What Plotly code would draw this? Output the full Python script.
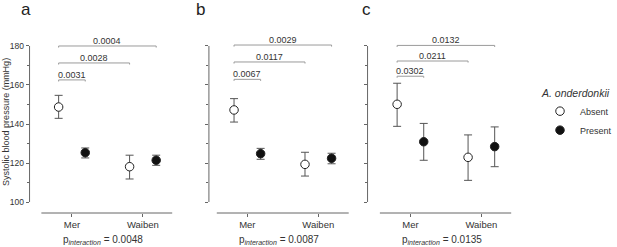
import plotly.graph_objects as go

# ---------------- data ----------------
categories = ["Mer", "Waiben"]
panels = ["a", "b", "c"]

# means (Absent / Present), per panel, per category
absent_mean = {"a": [148.7, 118.1], "b": [147.2, 119.3], "c": [150.1, 122.9]}
absent_upper = {"a": [154.7, 124.0], "b": [153.0, 125.5], "c": [160.9, 134.4]}
absent_lower = {"a": [142.9, 111.8], "b": [141.0, 113.3], "c": [138.8, 111.1]}

present_mean = {"a": [125.3, 121.4], "b": [124.8, 122.4], "c": [130.9, 128.4]}
present_upper = {"a": [127.7, 124.0], "b": [127.5, 125.0], "c": [140.3, 138.5]}
present_lower = {"a": [122.6, 118.8], "b": [121.9, 119.6], "c": [121.4, 118.1]}

# pairwise comparisons: all start at Absent-Mer; end group and label, bracket level
bracket_ends = [("Present", "Mer"), ("Absent", "Waiben"), ("Present", "Waiben")]
bracket_p = {"a": ["0.0031", "0.0028", "0.0004"],
             "b": ["0.0067", "0.0117", "0.0029"],
             "c": ["0.0302", "0.0211", "0.0132"]}
bracket_y = {"a": [162.6, 171.3, 180.0],
             "b": [162.9, 171.8, 180.5],
             "c": [164.5, 172.3, 180.3]}
p_interaction = {"a": "0.0048", "b": "0.0087", "c": "0.0135"}

y_ticks = [100, 120, 140, 160, 180]
y_title = "Systolic blood pressure (mmHg)"
legend_title = "A. onderdonkii"

# ---------------- layout geometry (pixels) ----------------
W, H = 617, 247
FONT = "Liberation Sans, Arial, sans-serif"
TXT = "#333333"
AX = "#666666"
BR = "#9a9a9a"
px_per_cat = 72.0
offset = 13.5 / px_per_cat
# per panel: y-axis x pixel, Mer pixel, x-line right pixel
geom = {"a": (30, 73, 175), "b": (212, 251, 354), "c": (373, 416.5, 519)}
line_left = -31 / px_per_cat
y_top_px, y_bot_px = 30, 213
y_range = [94.36, 188.2]
letter_x = {"a": 26, "b": 203, "c": 372}

fig = go.Figure()
xpos = {"Mer": 0, "Waiben": 1}
grp_off = {"Absent": -offset, "Present": offset}

for i, p in enumerate(panels):
    n = "" if i == 0 else str(i + 1)
    xa, ya = "x" + n, "y" + n
    yax_px, mer_px, right_px = geom[p]
    rng = [(yax_px - mer_px) / px_per_cat, (right_px - mer_px) / px_per_cat]
    dom = [yax_px / W, right_px / W]

    for grp, mean, up, lo, fill, showl in [
        ("Absent", absent_mean[p], absent_upper[p], absent_lower[p], "white", i == 0),
        ("Present", present_mean[p], present_upper[p], present_lower[p], "#111111", i == 0),
    ]:
        xs = [xpos[c] + grp_off[grp] for c in categories]
        fig.add_trace(go.Scatter(
            x=xs, y=mean, mode="markers", name=grp, showlegend=showl,
            xaxis=xa, yaxis=ya, cliponaxis=False,
            marker=dict(size=8.5, color=fill, line=dict(color="#222222", width=1)),
            error_y=dict(type="data", symmetric=False,
                         array=[u - m for u, m in zip(up, mean)],
                         arrayminus=[m - l for m, l in zip(mean, lo)],
                         color="#555555", thickness=1, width=4),
        ))

    ax_key = "xaxis" + n
    ay_key = "yaxis" + n
    fig.update_layout(**{
        ax_key: dict(domain=dom, range=rng, anchor=ya, showgrid=False, zeroline=False,
                     showline=False, tickvals=[0, 1], ticktext=categories,
                     ticks="outside", ticklen=3, tickcolor=AX,
                     tickfont=dict(size=9.5, color=TXT, family=FONT)),
        ay_key: dict(domain=[(H - y_bot_px) / H, (H - y_top_px) / H], range=y_range,
                     anchor=xa, showgrid=False, zeroline=False, showline=False,
                     tickvals=y_ticks, ticks="outside", ticklen=3, tickcolor=AX,
                     showticklabels=(i == 0),
                     tickfont=dict(size=8.5, color=TXT, family=FONT),
                     minor=dict(tickvals=[110, 130, 150, 170], ticks="outside",
                                ticklen=2, tickcolor=AX, showgrid=False)),
    })

    # axis lines
    fig.add_shape(type="line", xref=xa + " domain", yref=ya, x0=0, x1=0,
                  y0=y_ticks[0], y1=y_ticks[-1], line=dict(color=AX, width=1))
    fig.add_shape(type="line", xref=xa, yref=ya + " domain", x0=line_left, x1=rng[1],
                  y0=0, y1=0, line=dict(color=AX, width=1))

    # brackets
    x_start = xpos["Mer"] + grp_off["Absent"]
    for (grp, cat), ptxt, yb in zip(bracket_ends, bracket_p[p], bracket_y[p]):
        x_end = xpos[cat] + grp_off[grp]
        fig.add_shape(type="path", xref=xa, yref=ya,
                      path=f"M {x_start},{yb-0.8} L {x_start},{yb} L {x_end},{yb} L {x_end},{yb-0.8}",
                      line=dict(color=BR, width=1))
        fig.add_annotation(xref=xa, yref=ya, x=(x_start + x_end) / 2, y=yb,
                           text=ptxt, showarrow=False, yanchor="bottom", yshift=-2,
                           font=dict(size=9, color=TXT, family=FONT))

    # p interaction
    fig.add_annotation(xref=xa, yref="paper", x=0.5, y=(H - 240) / H, xshift=-4,
                       text=f"p<sub><i>interaction</i></sub> = {p_interaction[p]}",
                       showarrow=False, yanchor="middle",
                       font=dict(size=10, color=TXT, family=FONT))
    # panel letter
    fig.add_annotation(xref="paper", yref="paper", x=letter_x[p] / W, y=(H - 9) / H,
                       text=p, showarrow=False, yanchor="middle", xanchor="center",
                       font=dict(size=17, color="#222222", family=FONT))

fig.add_annotation(xref="paper", yref="paper", x=6 / W, y=(H - 122) / H,
                   text=y_title, textangle=-90, showarrow=False,
                   xanchor="center", yanchor="middle",
                   font=dict(size=9, color=TXT, family=FONT))

fig.update_layout(
    width=W, height=H, margin=dict(l=0, r=0, t=0, b=0),
    paper_bgcolor="white", plot_bgcolor="white",
    font=dict(family=FONT, color=TXT),
    legend=dict(x=548 / W, y=(H - 83) / H, xanchor="left", yanchor="top",
                title=dict(text=f"<i>{legend_title}</i>", font=dict(size=10.5, color=TXT)),
                font=dict(size=9, color=TXT, family=FONT),
                itemwidth=30, tracegroupgap=0, bgcolor="rgba(0,0,0,0)"),
)

fig.write_html("out.html", config={"displayModeBar": False},
               post_script="document.body.style.margin='0';document.body.style.padding='0';")
